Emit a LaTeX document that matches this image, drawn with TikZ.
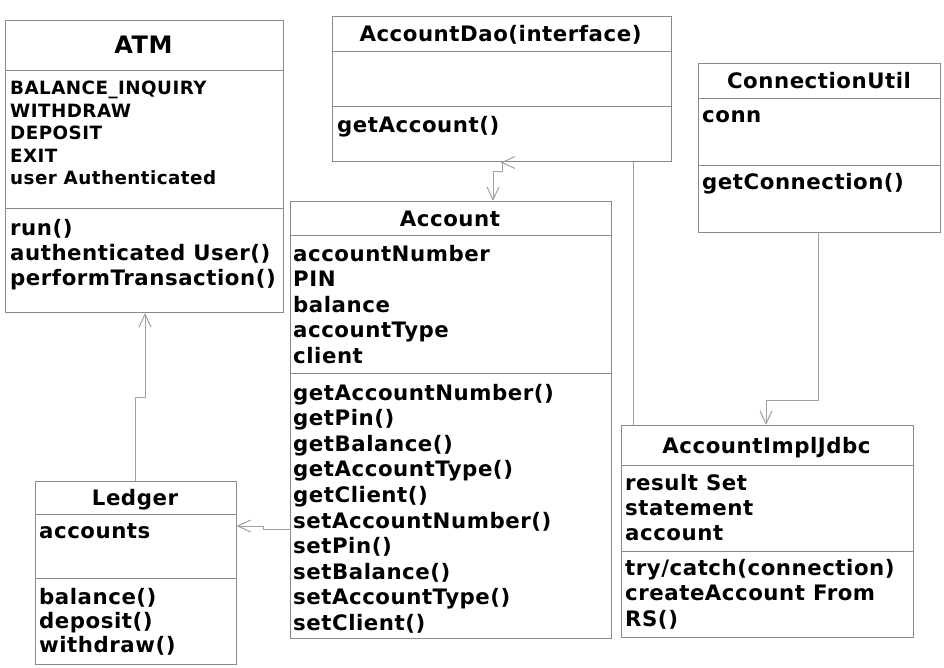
\documentclass[tikz,border=0pt]{standalone}
\usepackage{fontspec}
\setmainfont{DejaVu Sans}[LetterSpace=2.5]
\usetikzlibrary{arrows.meta,calc}
\definecolor{boxgray}{HTML}{8A8A8A}
\definecolor{linkgray}{HTML}{A0A0A0}
\tikzset{
 classbox/.style={draw=boxgray, line width=1pt, inner sep=0pt, anchor=north west},
 sepline/.style={draw=boxgray, line width=1pt},
 txt/.style={inner sep=0pt, anchor=base west, align=left, font=\fontsize{21.3}{25.6}\selectfont\bfseries},
 ttl/.style={inner sep=0pt, anchor=base, font=\fontsize{21.3}{25}\selectfont\bfseries},
 link/.style={draw=linkgray, line width=1pt},
 tip/.style={-{Straight Barb[length=13pt,width=12pt,line width=1pt]}},
}
\begin{document}
\begin{tikzpicture}[x=1pt,y=-1pt]
\useasboundingbox[fill=white] (0,0) rectangle (944,668);

% ATM (multi-line nodes are placed by the baseline of their last line)
\node[classbox, minimum width=277.5pt, minimum height=292pt] (atm) at (5,20) {};
\draw[sepline] (atm.west |- 0,71) -- (atm.east |- 0,71);
\draw[sepline] (atm.west |- 0,209) -- (atm.east |- 0,209);
\node[ttl, font=\fontsize{24}{28}\selectfont\bfseries] (atmT) at (143.5,54) {ATM};
\node[txt, font=\fontsize{18.3}{22.5}\selectfont\bfseries] (atmA) at (10,185) {BALANCE\_INQUIRY\\WITHDRAW\\DEPOSIT\\EXIT\\user Authenticated};
\node[txt, font=\fontsize{21.3}{25}\selectfont\bfseries] (atmM) at (10,285) {run()\\authenticated User()\\performTransaction()};

% AccountDao
\node[classbox, minimum width=338.5pt, minimum height=145pt] (dao) at (332,16.5) {};
\draw[sepline] (dao.west |- 0,51.5) -- (dao.east |- 0,51.5);
\draw[sepline] (dao.west |- 0,106.5) -- (dao.east |- 0,106.5);
\node[ttl] (daoT) at (500.5,41.5) {AccountDao(interface)};
\node[txt] (daoM) at (337,133) {getAccount()};

% ConnectionUtil
\node[classbox, minimum width=242pt, minimum height=169pt] (conn) at (698,63.5) {};
\draw[sepline] (conn.west |- 0,98.5) -- (conn.east |- 0,98.5);
\draw[sepline] (conn.west |- 0,166) -- (conn.east |- 0,166);
\node[ttl] (connT) at (819,89) {ConnectionUtil};
\node[txt] (connA) at (702,123) {conn};
\node[txt] (connM) at (702,190) {getConnection()};

% Account
\node[classbox, minimum width=321pt, minimum height=437pt] (account) at (289.5,201) {};
\draw[sepline] (account.west |- 0,235.5) -- (account.east |- 0,235.5);
\draw[sepline] (account.west |- 0,373.5) -- (account.east |- 0,373.5);
\node[ttl] (accountT) at (450,226) {Account};
\node[txt] (accountA) at (293,363.4) {accountNumber\\PIN\\balance\\accountType\\client};
\node[txt] (accountM) at (293,630.4) {getAccountNumber()\\getPin()\\getBalance()\\getAccountType()\\getClient()\\setAccountNumber()\\setPin()\\setBalance()\\setAccountType()\\setClient()};

% AccountImplJdbc
\node[classbox, minimum width=291.5pt, minimum height=212pt] (impl) at (621,425) {};
\draw[sepline] (impl.west |- 0,465) -- (impl.east |- 0,465);
\draw[sepline] (impl.west |- 0,551) -- (impl.east |- 0,551);
\node[ttl] (implT) at (766.5,453.5) {AccountImplJdbc};
\node[txt, font=\fontsize{21.3}{25}\selectfont\bfseries] (implA) at (625,540) {result Set\\statement\\account};
\node[txt, font=\fontsize{21.3}{25.8}\selectfont\bfseries] (implM) at (625,626.6) {try/catch(connection)\\createAccount From\\RS()};

% Ledger
\node[classbox, minimum width=200.5pt, minimum height=182.5pt] (ledger) at (35,481) {};
\draw[sepline] (ledger.west |- 0,514.5) -- (ledger.east |- 0,514.5);
\draw[sepline] (ledger.west |- 0,578.5) -- (ledger.east |- 0,578.5);
\node[ttl] (ledgerT) at (135,505) {Ledger};
\node[txt] (ledgerA) at (39,538) {accounts};
\node[txt, font=\fontsize{21.3}{24}\selectfont\bfseries] (ledgerM) at (39,652) {balance()\\deposit()\\withdraw()};

% connectors
\coordinate (j1) at (145,397);
\draw[link,tip] (ledger.north) |- (j1) -- (j1 |- atm.south);
\coordinate (j2) at (263,529);
\draw[link,tip] (account.west |- j2) -- (j2) -- ++(0,-3) -- (ledger.east |- 0,526);
\coordinate (d1) at (502,172);
\coordinate (d2) at (493,172);
\draw[link,tip] (dao.south -| d1) -- (d1) -- (d2) -- (account.north -| d2);
\draw[link] ($(dao.south -| d1)+(13,-6)$) -- (dao.south -| d1) -- ++(13,6);
\coordinate (k1) at (633,0);
\draw[link] (dao.south -| k1) -- (impl.north -| k1);
\coordinate (c1) at (818,400);
\coordinate (c2) at (766,400);
\draw[link,tip] (conn.south -| c1) -- (c1) -- (c2) -- (impl.north -| c2);
\end{tikzpicture}
\end{document}
